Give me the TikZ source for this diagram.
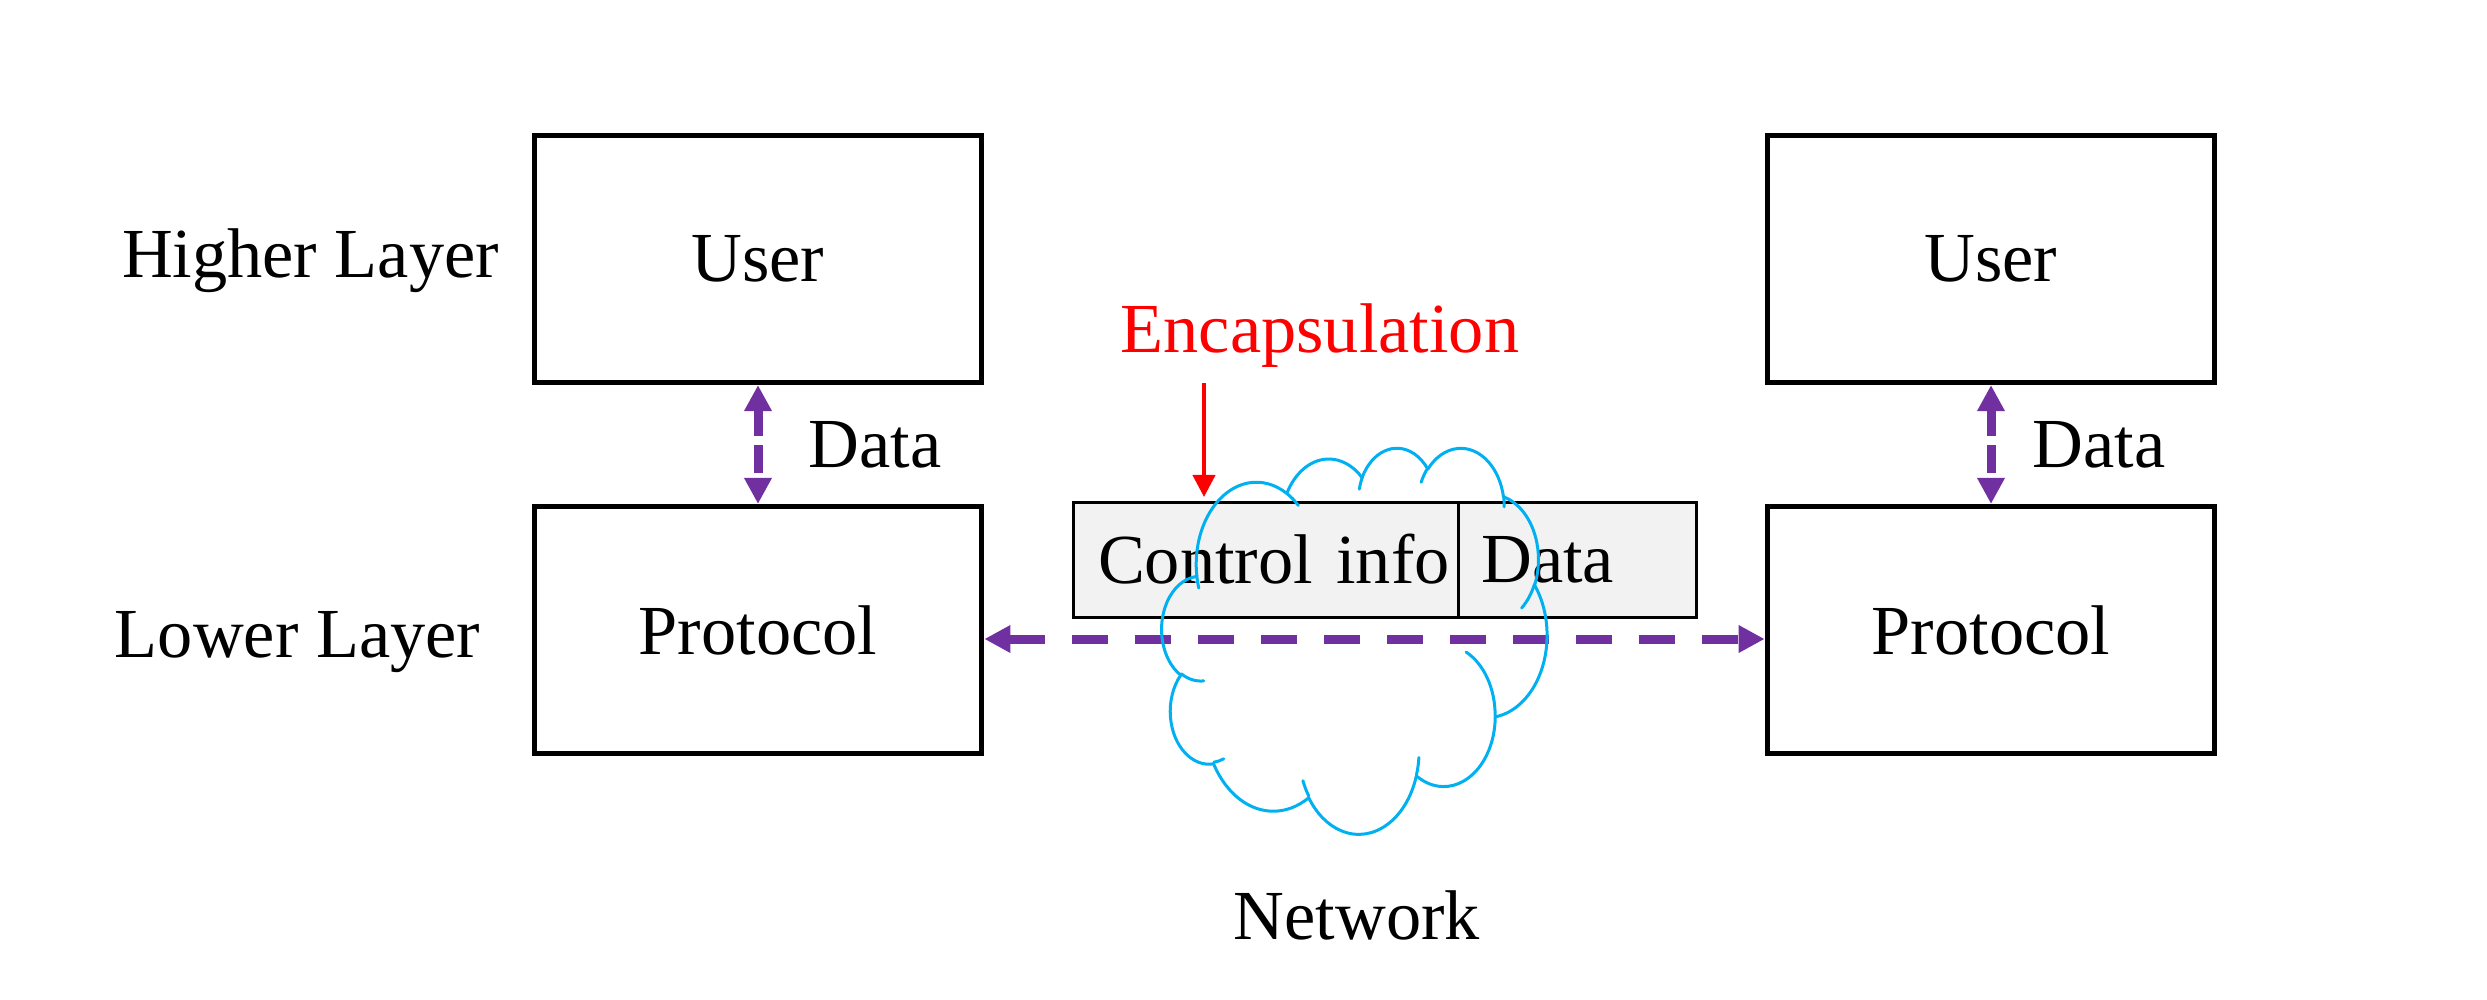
\documentclass[tikz,border=0pt]{standalone}
\usepackage{fontspec}
\setmainfont{Liberation Serif}
\usetikzlibrary{arrows.meta,positioning}
\definecolor{arrowpurple}{HTML}{7030A0}
\definecolor{cloudblue}{HTML}{00B0F0}
\definecolor{cellgray}{HTML}{F2F2F2}
\begin{document}
\begin{tikzpicture}[x=0.01cm,y=-0.01cm,
    every node/.style={font=\fontsize{20}{24}\selectfont},
    layerbox/.style={draw,line width=0.05cm,minimum width=4.475cm,minimum height=2.47cm},
    cellbox/.style={draw,fill=cellgray,line width=0.03cm,outer sep=0pt,minimum height=1.15cm,align=left},
    dataarrow/.style={draw=arrowpurple,line width=0.09cm,
        {Triangle[length=0.26cm,width=0.26cm]}-{Triangle[length=0.26cm,width=0.26cm]}},
    cloudline/.style={draw=cloudblue,line width=0.03cm,line cap=round}]
    \useasboundingbox (0,0) rectangle (2487,1000);
    % layers
    \node[anchor=base] (higher) at (310.5,277) {Higher Layer};
    \node[anchor=base] (lower) at (297.5,657) {Lower Layer};
    \node[layerbox] (user1) at (758,259) {User};
    \node[layerbox] (proto1) at (758,630) {Protocol};
    \node[layerbox] (user2) at (1991,259) {User};
    \node[layerbox] (proto2) at (1991,630) {Protocol};
    % packet
    \node[cellbox,anchor=north west,text width=3.35cm,inner xsep=0.25cm] (ctrl) at (1073,502)
        {\mbox{Control info}};
    \node[cellbox,right=0pt of ctrl,text width=1.92cm,inner xsep=0.23cm] (pdata) {Data};
    \node[text=red,anchor=base,inner sep=0pt] (encap) at (1320,352) {Encapsulation};
    \coordinate (encaptail) at (1204,383);
    \draw[red,line width=0.04cm,-{Triangle[length=0.22cm,width=0.22cm]},shorten >=0.05cm]
        (encaptail) -- (encaptail |- ctrl.north);
    % data flow
    \draw[dataarrow,dash pattern=on 0.27cm off 0.09cm] (user1) -- (proto1)
        node[midway,right=0.46cm,inner sep=0pt] (data1) {Data};
    \draw[dataarrow,dash pattern=on 0.27cm off 0.09cm] (user2) -- (proto2)
        node[midway,right=0.37cm,inner sep=0pt] (data2) {Data};
    \draw[dataarrow,dash pattern=on 0.36cm off 0.27cm]
        ([yshift=-0.09cm]proto1.east) -- ([yshift=-0.09cm]proto2.west);
    % network cloud
    \begin{scope}[shift={(1162,447)},xscale=385/432,yscale=386/432]
        \coordinate (cl0) at (39,143.7);
        \foreach \wr/\hr/\st/\sw [count=\i] in {67.53/91.90/-190.4875/123.7805,
                53.33/72.67/-144.1024/89.9452, 43.65/59.45/-145.8079/99.7230,
                48.57/65.95/-130.9861/117.2417, 53.33/72.73/-78.7089/109.0269,
                67.75/92.20/-46.2673/130.2690, 57.85/78.67/0.6250/114.0333,
                67.52/92.15/22.4516/115.1726, 77.20/105.43/66.2426/75.7110,
                43.60/59.18/-274.9421/146.7356, 43.45/59.45/-246.8285/152.5189}{
            \pgfmathsetmacro\ta{atan2(\wr*sin(\st),\hr*cos(\st))}
            \pgfmathsetmacro\tb{atan2(\wr*sin(\st+\sw),\hr*cos(\st+\sw))}
            \pgfmathsetmacro\dl{\tb-\ta+360*(\sw>0)*(\tb<\ta)-360*(\sw<0)*(\tb>\ta)}
            \pgfmathtruncatemacro\j{\i-1}
            \draw[cloudline] (cl\j) arc[start angle=\ta,delta angle=\dl,x radius=\wr,y radius=\hr]
                coordinate (cl\i);
        }
        \foreach \hx/\hy/\wr/\hr/\st/\sw in {46.93/261.77/43.45/59.45/86.742/26.4295,
                69.28/348.99/43.60/59.18/73.6105/11.4475, 164.78/390.90/67.52/92.15/137.6242/14.0811,
                288.27/347.51/67.52/92.15/6.4533/15.9984, 341.29/229.54/57.85/78.67/-70.2924/70.9174,
                417.98/153.54/53.33/72.73/30.3180/27.7515, 383.24/54.26/48.57/65.95/-13.7443/14.8589,
                290.78/39.52/48.57/65.95/-149.1815/18.1954, 221.41/47.20/43.65/59.45/-163.4943/17.6864,
                140.00/51.92/67.53/91.90/-66.7070/12.3194, 41.27/157.89/67.53/91.90/157.6544/11.8582}{
            \pgfmathsetmacro\ta{atan2(\wr*sin(\st),\hr*cos(\st))}
            \pgfmathsetmacro\tb{atan2(\wr*sin(\st+\sw),\hr*cos(\st+\sw))}
            \pgfmathsetmacro\dl{\tb-\ta+360*(\sw>0)*(\tb<\ta)-360*(\sw<0)*(\tb>\ta)}
            \draw[cloudline] (\hx,\hy) arc[start angle=\ta,delta angle=\dl,x radius=\wr,y radius=\hr];
        }
    \end{scope}
    \node[anchor=base] (network) at (1357,939) {Network};
\end{tikzpicture}
\end{document}
